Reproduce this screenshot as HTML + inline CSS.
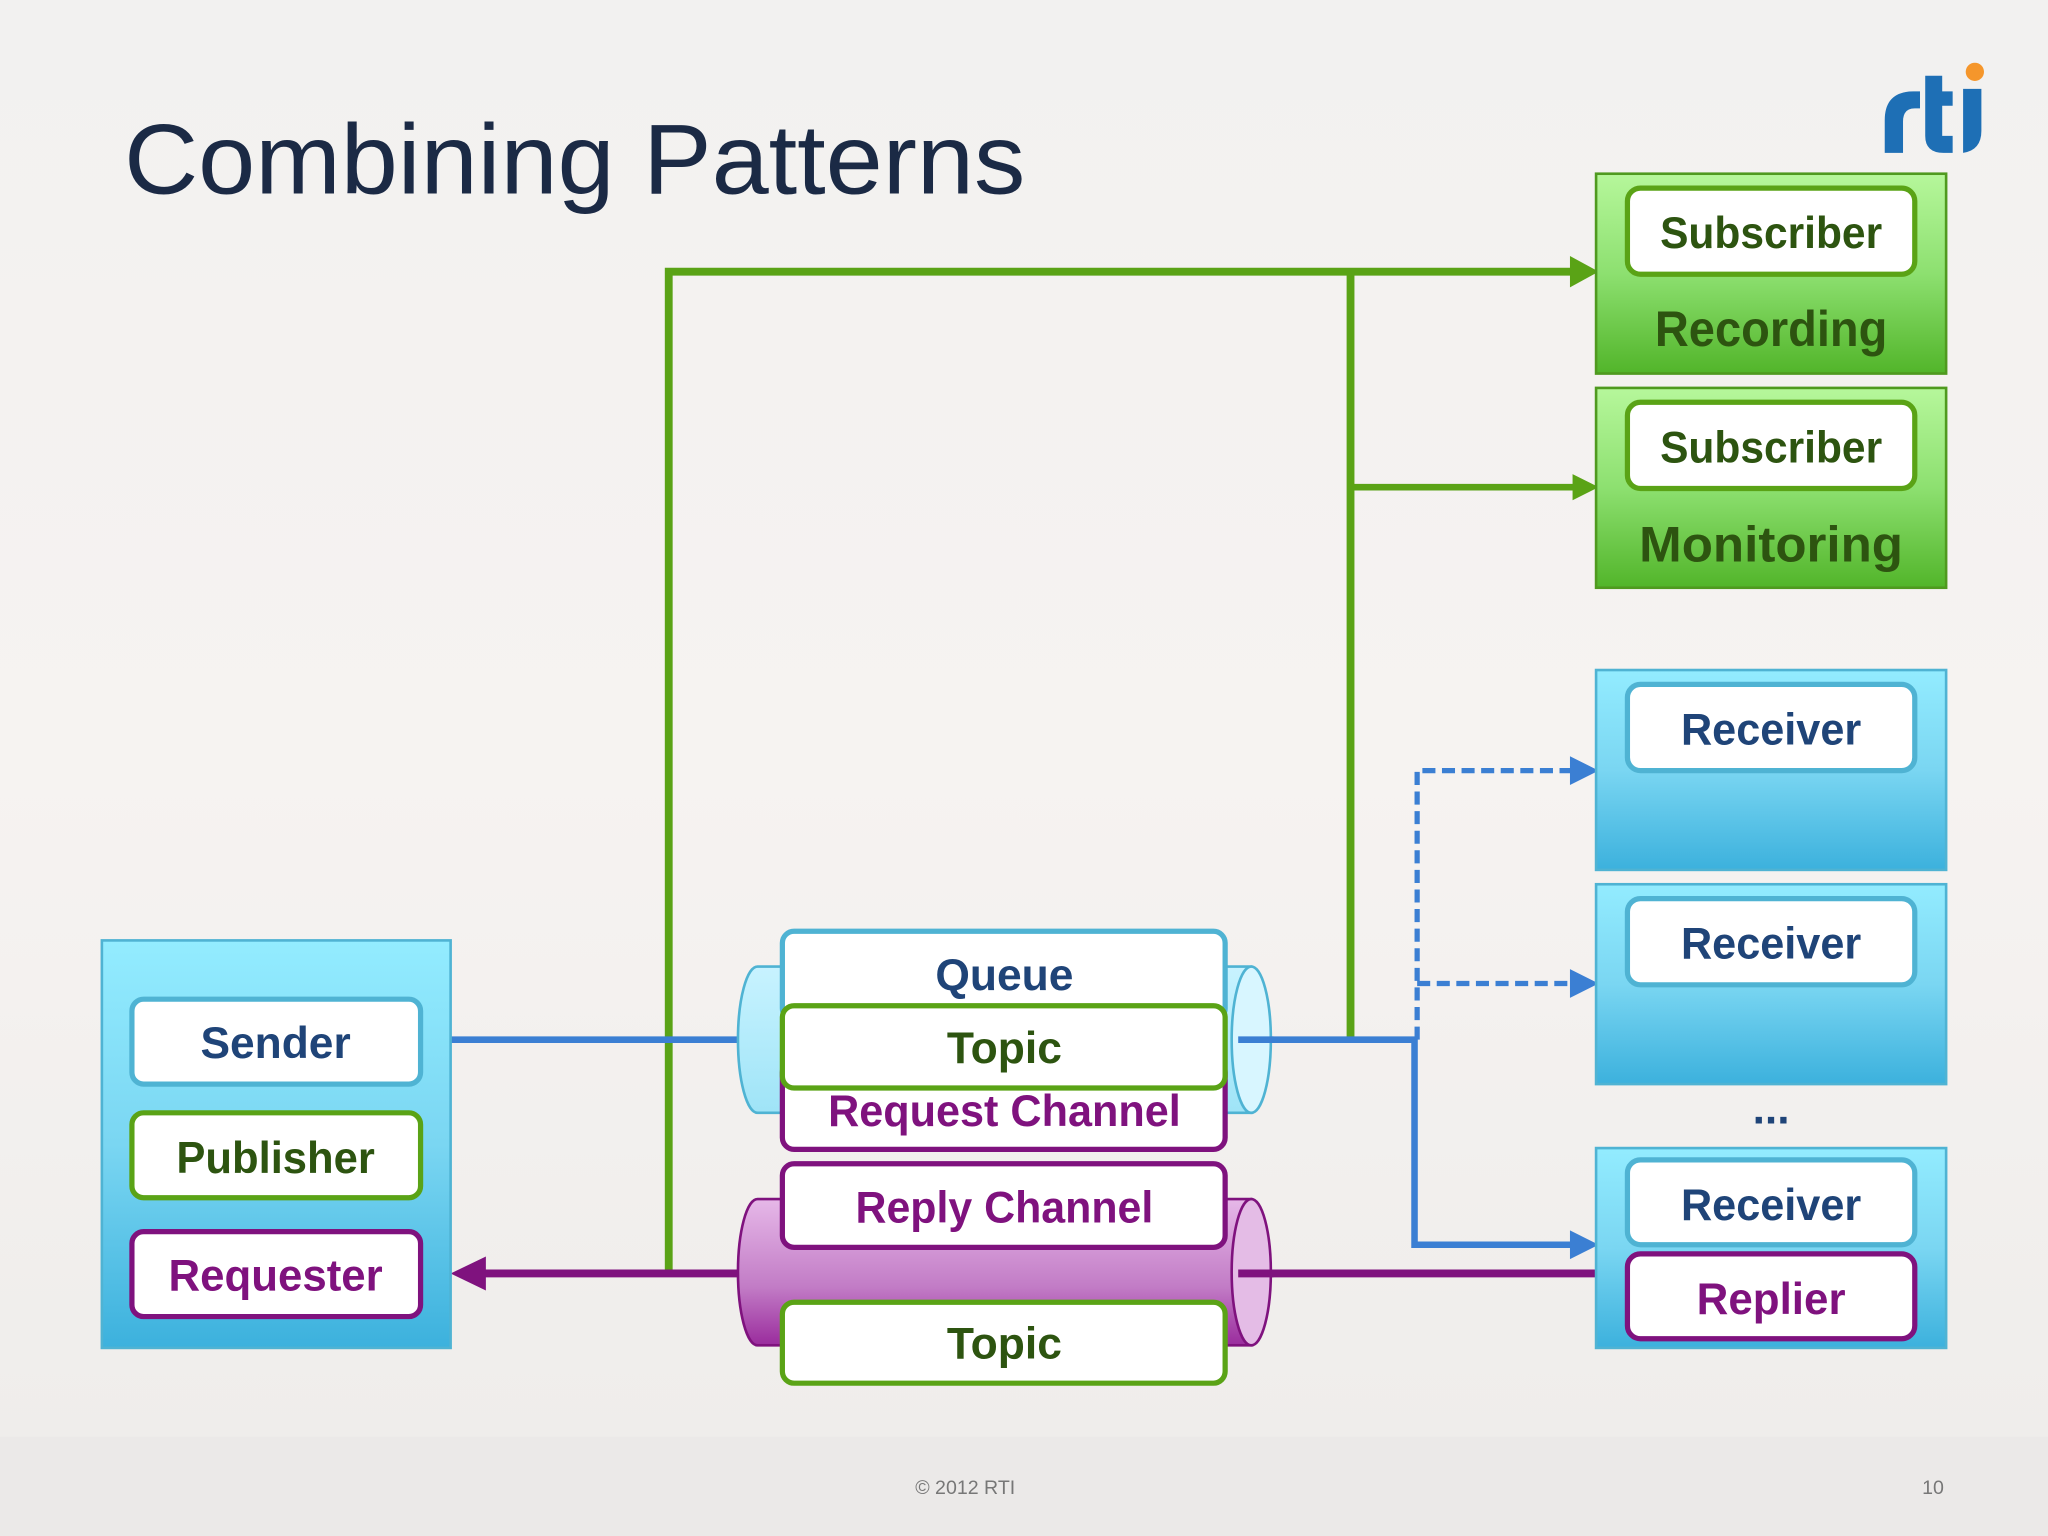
<!DOCTYPE html>
<html><head><meta charset="utf-8"><style>
html,body{margin:0;padding:0;background:#f3f1ef;}
svg{display:block}
text{font-family:"Liberation Sans",sans-serif;font-weight:bold;}
</style></head><body>
<svg width="2048" height="1536" viewBox="0 0 1568 1176" xmlns="http://www.w3.org/2000/svg">
<defs>
<linearGradient id="bg" x1="0" y1="0" x2="0" y2="1"><stop offset="0" stop-color="#f2f1f0"/><stop offset="0.5" stop-color="#f6f3f1"/><stop offset="1" stop-color="#eeecea"/></linearGradient>
<linearGradient id="gr" x1="0" y1="0" x2="0" y2="1"><stop offset="0" stop-color="#b6f79b"/><stop offset="0.5" stop-color="#8de070"/><stop offset="1" stop-color="#52b52a"/></linearGradient>
<linearGradient id="bl" x1="0" y1="0" x2="0" y2="1"><stop offset="0" stop-color="#93ecff"/><stop offset="0.5" stop-color="#7ad6f2"/><stop offset="1" stop-color="#3cb1dd"/></linearGradient>
<linearGradient id="cb" x1="0" y1="0" x2="0" y2="1"><stop offset="0" stop-color="#c8f3ff"/><stop offset="1" stop-color="#9fe4f7"/></linearGradient>
<linearGradient id="cp" x1="0" y1="0" x2="0" y2="1"><stop offset="0" stop-color="#e6b8e8"/><stop offset="0.6" stop-color="#c27cc6"/><stop offset="1" stop-color="#9a2c9d"/></linearGradient>
</defs>
<rect width="1568" height="1176" fill="url(#bg)"/>
<rect y="1100" width="1568" height="76" fill="#ebe9e8"/>
<text x="95" y="148" font-size="76" fill="#1b2a45" style="font-weight:normal" textLength="690" lengthAdjust="spacingAndGlyphs">Combining Patterns</text>
<!-- logo -->
<g fill="#1e6fb5">
<path d="M1443,117 V92 Q1443,70 1465,70 H1470 V83 H1466 Q1457,83 1457,93 V117z"/>
<path d="M1474,58 H1487 V70 H1495 V81 H1487 V104 H1495 V117 H1488 Q1474,117 1474,104z"/>
<path d="M1503,68 H1517 V100 Q1517,115 1503,117z"/>
</g>
<circle cx="1512" cy="55" r="7" fill="#f5962b"/>
<!-- lines -->
<g fill="none" stroke-width="6">
<path d="M512,975 V208 H1205" stroke="#5aa316"/>
<path d="M1034,796 V208" stroke="#5aa316"/>
<path d="M1034,373 H1205" stroke="#5aa316" stroke-width="5"/>
<path d="M345,796 H570" stroke="#3b7fd3" stroke-width="5"/>
<path d="M948,796 H1083 V953 H1205" stroke="#3b7fd3" stroke-width="5"/>
<path d="M1085,796 V590 H1205 M1085,753 H1205" stroke="#3b7fd3" stroke-width="4" stroke-dasharray="10,5"/>
<path d="M1222,975 H368" stroke="#7f127e" stroke-width="6"/>
</g>
<path d="M1202,196 L1224,208 L1202,220z" fill="#5aa316"/>
<path d="M1204,363 L1224,373 L1204,383z" fill="#5aa316"/>
<path d="M1202,579 L1224,590 L1202,601z" fill="#3b7fd3"/>
<path d="M1202,742 L1224,753 L1202,764z" fill="#3b7fd3"/>
<path d="M1202,942 L1224,953 L1202,964z" fill="#3b7fd3"/>
<path d="M372,962 L345,975 L372,988z" fill="#7f127e"/>
<!-- cylinders -->
<g stroke-width="2">
<path d="M580,740 H958 V852 H580 A15,56 0 0 1 580,740z" fill="url(#cb)" stroke="#4fb3d3"/>
<ellipse cx="958" cy="796" rx="15" ry="56" fill="#d8f6ff" stroke="#4fb3d3"/>
<path d="M580,918 H958 V1030 H580 A15,56 0 0 1 580,918z" fill="url(#cp)" stroke="#7f127e"/>
<ellipse cx="958" cy="974" rx="15" ry="56" fill="#e4bce6" stroke="#7f127e"/>
</g>
<line x1="948" y1="796" x2="975" y2="796" stroke="#3b7fd3" stroke-width="5"/>
<line x1="948" y1="975" x2="975" y2="975" stroke="#7f127e" stroke-width="6"/>
<!-- middle boxes -->
<g stroke-width="4" fill="#fff">
<rect x="599" y="713" width="339" height="68" rx="9" stroke="#4fb3d3"/>
<rect x="599" y="812" width="339" height="68" rx="9" stroke="#7f127e"/>
<rect x="599" y="770" width="339" height="63" rx="9" stroke="#5aa316"/>
<rect x="599" y="891" width="339" height="64" rx="9" stroke="#7f127e"/>
<rect x="599" y="997" width="339" height="62" rx="9" stroke="#5aa316"/>
</g>
<g font-size="34" text-anchor="middle">
<text x="769" y="758" fill="#1f4478">Queue</text>
<text x="769" y="814" fill="#2d5410">Topic</text>
<text x="769" y="862" fill="#7f127e" textLength="270" lengthAdjust="spacingAndGlyphs">Request Channel</text>
<text x="769" y="936" fill="#7f127e" textLength="228" lengthAdjust="spacingAndGlyphs">Reply Channel</text>
<text x="769" y="1040" fill="#2d5410">Topic</text>
</g>
<!-- left box -->
<rect x="78" y="720" width="267" height="312" fill="url(#bl)" stroke="#4fb3d3" stroke-width="2"/>
<g stroke-width="4" fill="#fff">
<rect x="101" y="765" width="221" height="65" rx="9" stroke="#4fb3d3"/>
<rect x="101" y="852" width="221" height="65" rx="9" stroke="#5aa316"/>
<rect x="101" y="943" width="221" height="65" rx="9" stroke="#7f127e"/>
</g>
<g font-size="34" text-anchor="middle">
<text x="211" y="810" fill="#1f4478" textLength="115" lengthAdjust="spacingAndGlyphs">Sender</text>
<text x="211" y="898" fill="#2d5410" textLength="152" lengthAdjust="spacingAndGlyphs">Publisher</text>
<text x="211" y="988" fill="#7f127e" textLength="164" lengthAdjust="spacingAndGlyphs">Requester</text>
</g>
<!-- right green -->
<rect x="1222" y="133" width="268" height="153" fill="url(#gr)" stroke="#4f9a1f" stroke-width="2"/>
<rect x="1222" y="297" width="268" height="153" fill="url(#gr)" stroke="#4f9a1f" stroke-width="2"/>
<g stroke-width="4" fill="#fff">
<rect x="1246" y="144" width="220" height="66" rx="10" stroke="#5aa316"/>
<rect x="1246" y="308" width="220" height="66" rx="10" stroke="#5aa316"/>
</g>
<!-- right blue -->
<rect x="1222" y="513" width="268" height="153" fill="url(#bl)" stroke="#4fb3d3" stroke-width="2"/>
<rect x="1222" y="677" width="268" height="153" fill="url(#bl)" stroke="#4fb3d3" stroke-width="2"/>
<rect x="1222" y="879" width="268" height="153" fill="url(#bl)" stroke="#4fb3d3" stroke-width="2"/>
<g stroke-width="4" fill="#fff">
<rect x="1246" y="524" width="220" height="66" rx="10" stroke="#4fb3d3"/>
<rect x="1246" y="688" width="220" height="66" rx="10" stroke="#4fb3d3"/>
<rect x="1246" y="888" width="220" height="65" rx="10" stroke="#4fb3d3"/>
<rect x="1246" y="960" width="220" height="65" rx="10" stroke="#7f127e"/>
</g>
<g font-size="34" text-anchor="middle">
<text x="1356" y="190" fill="#2d5410" textLength="170" lengthAdjust="spacingAndGlyphs">Subscriber</text>
<text x="1356" y="265" fill="#2d5410" font-size="38" textLength="178" lengthAdjust="spacingAndGlyphs">Recording</text>
<text x="1356" y="354" fill="#2d5410" textLength="170" lengthAdjust="spacingAndGlyphs">Subscriber</text>
<text x="1356" y="430" fill="#2d5410" font-size="38" textLength="202" lengthAdjust="spacingAndGlyphs">Monitoring</text>
<text x="1356" y="570" fill="#1f4478" textLength="138" lengthAdjust="spacingAndGlyphs">Receiver</text>
<text x="1356" y="734" fill="#1f4478" textLength="138" lengthAdjust="spacingAndGlyphs">Receiver</text>
<text x="1356" y="934" fill="#1f4478" textLength="138" lengthAdjust="spacingAndGlyphs">Receiver</text>
<text x="1356" y="1006" fill="#7f127e" textLength="114" lengthAdjust="spacingAndGlyphs">Replier</text>
<text x="1356" y="860" fill="#1f4478">...</text>
</g>
<text x="739" y="1144" font-size="15" style="font-weight:normal" fill="#777" text-anchor="middle">© 2012 RTI</text>
<text x="1480" y="1144" font-size="15" style="font-weight:normal" fill="#777" text-anchor="middle">10</text>
</svg>
</body></html>
